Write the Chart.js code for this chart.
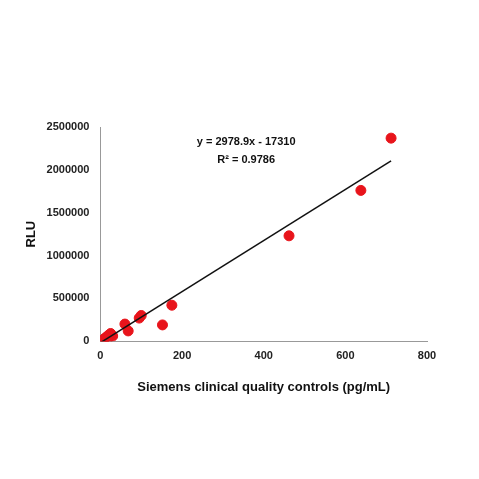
<!DOCTYPE html><html><head><script src="https://cdn.jsdelivr.net/npm/chart.js"></script>
<style>body{margin:0;background:#fff}#w{width:479px;height:479px}</style></head><body><div id="w"><canvas id="c"></canvas></div>
<script>
const xVals=[5,8,10,15,20,25,30,20,60,68,95,100,152,175,462,638,712];
const yVals=[10000,20000,30000,50000,70000,90000,60000,40000,200000,120000,270000,300000,190000,420000,1230000,1760000,2370000];
const slope=2978.9, intercept=-17310;
const trendX=[0,712];
const eqText=["y = 2978.9x - 17310","R² = 0.9786"];
const F='"Liberation Sans", Arial, sans-serif';
const ann={id:'ann',afterDraw(ch){const c=ch.ctx,xs=ch.scales.x,ys=ch.scales.y;c.save();c.font='bold 11px '+F;c.fillStyle='#111';c.textAlign='center';c.textBaseline='middle';
c.fillText(eqText[0],xs.getPixelForValue(357),ys.getPixelForValue(2320000));c.fillText(eqText[1],xs.getPixelForValue(357),ys.getPixelForValue(2120000));c.restore();}};
new Chart(document.getElementById('c'),{type:'scatter',data:{datasets:[
{data:xVals.map((x,i)=>({x,y:yVals[i]})),backgroundColor:'#e8141b',borderColor:'#e8141b',pointRadius:5,pointHoverRadius:5,order:2},
{type:'line',data:trendX.map(x=>({x,y:slope*x+intercept})),borderColor:'#111',borderWidth:1.5,pointRadius:0,order:1}]},
options:{responsive:true,maintainAspectRatio:false,animation:false,layout:{padding:{left:20,right:52,top:127,bottom:80}},
plugins:{legend:{display:false},tooltip:{enabled:false}},
scales:{x:{type:'linear',min:0,max:800,ticks:{stepSize:200,font:{family:F,size:11,weight:'bold'},color:'#222'},grid:{display:false,tickLength:5},border:{color:'#999'},title:{display:true,text:'Siemens clinical quality controls (pg/mL)',font:{family:F,size:13,weight:'bold'},color:'#111',padding:{top:14}}},
y:{min:0,max:2500000,ticks:{stepSize:500000,callback:v=>String(v),font:{family:F,size:11,weight:'bold'},color:'#222'},grid:{display:false},border:{color:'#999'},title:{display:true,text:'RLU',font:{family:F,size:13,weight:'bold'},color:'#111'}}}},
plugins:[ann]});
</script></body></html>
